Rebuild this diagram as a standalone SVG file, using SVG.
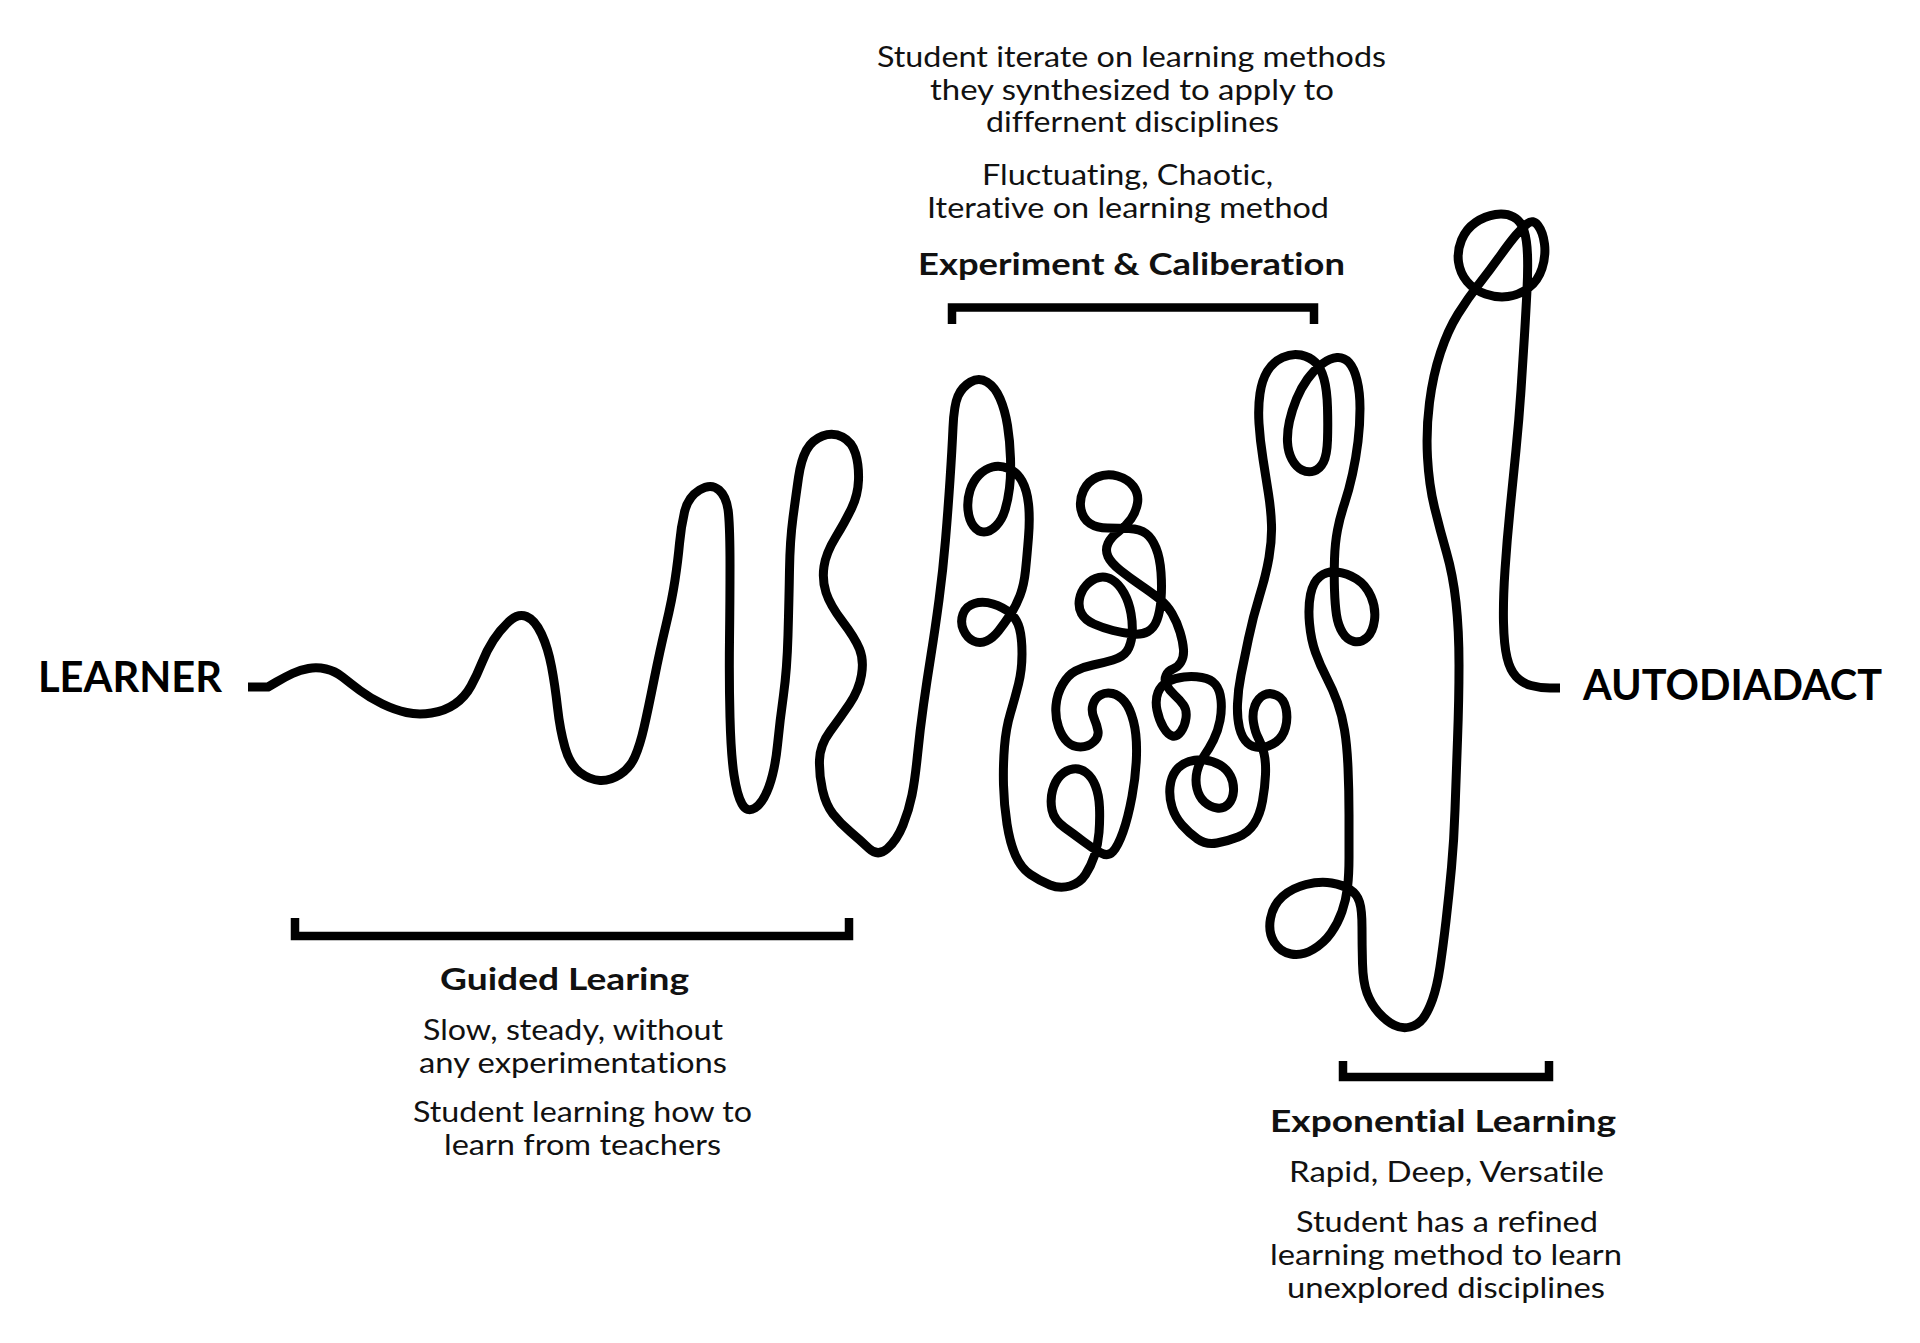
<svg xmlns="http://www.w3.org/2000/svg" width="1920" height="1343" viewBox="0 0 1920 1343">
<style>
.bg{fill:#ffffff}
.curve{fill:none;stroke:#000;stroke-width:9;stroke-linecap:butt;stroke-linejoin:round}
.bracket{fill:none;stroke:#000;stroke-width:8.5;stroke-linecap:butt;stroke-linejoin:miter}
text{font-variant-ligatures:none;font-feature-settings:"liga" 0,"clig" 0}
.body{font-family:Lato,"Liberation Sans",sans-serif;font-size:28px;fill:#111;text-anchor:middle}
.head{font-family:Lato,"Liberation Sans",sans-serif;font-size:31px;font-weight:700;fill:#111;text-anchor:middle}
.end{font-family:Lato,"Liberation Sans",sans-serif;font-size:42px;font-weight:700;fill:#000}
</style>
<rect class="bg" x="0" y="0" width="1920" height="1343"/>
<g id="connectors">
<path id="learning-curve" class="curve" d="M248 687 L268 687 L276.5 682 Q285 677 292.5 673.5 Q300 670 308.5 668.5 Q317 667 326 669 Q335 671 342.5 677 Q350 683 360 690.5 Q370 698 382.5 704 Q395 710 406.5 712.5 Q418 715 431.5 713 Q445 711 455 704 Q465 697 471 686 Q477 675 482 662.5 Q487 650 493.5 640 Q500 630 509 621.5 Q518 613 526.5 616.5 Q535 620 541.5 634 Q548 648 551.5 666.5 Q555 685 557.5 707.5 Q560 730 565 747.5 Q570 765 580 772.5 Q590 780 600 780.5 Q610 781 620 774.5 Q630 768 635 756.5 Q640 745 644 727.5 Q648 710 654 680 Q660 650 666 625 Q672 600 675 580 Q678 560 679.5 543.5 Q681 527 684.5 512 Q688 497 699.5 490 Q711 483 719 490 Q727 497 728.5 513.5 Q730 530 730 565 Q730 600 729.5 640 Q729 680 730 717.5 Q731 755 734 775 Q737 795 742 804 Q747 813 755 808 Q763 803 769 786.5 Q775 770 777.5 745 Q780 720 783.5 695 Q787 670 788 635 Q789 600 789.5 570 Q790 540 793 517.5 Q796 495 798.5 477.5 Q801 460 806.5 450 Q812 440 822.5 436 Q833 432 842.5 437 Q852 442 855.5 453.5 Q859 465 858.5 480 Q858 495 851.5 508.5 Q845 522 835.5 537.5 Q826 553 824 566.5 Q822 580 826 592.5 Q830 605 842.5 621.5 Q855 638 859.5 649 Q864 660 861.5 675 Q859 690 849.5 704 Q840 718 830 731.5 Q820 745 819.5 760 Q819 775 822.5 790 Q826 805 833 814 Q840 823 850 831.5 Q860 840 869 848.5 Q878 857 887.5 848.5 Q897 840 903 825 Q909 810 912 795 Q915 780 917.5 755 Q920 730 923.5 705 Q927 680 931 655 Q935 630 939 600 Q943 570 945.5 540 Q948 510 950 480 Q952 450 953 427.5 Q954 405 958 396 Q962 387 970.5 382 Q979 377 987 382 Q995 387 1000 398.5 Q1005 410 1007.5 425.5 Q1010 441 1010.5 458.5 Q1011 476 1009.5 488 Q1008 500 1005 510 Q1002 520 996 526 Q990 532 984 532 Q978 532 973.5 526 Q969 520 968 510 Q967 500 970 490.5 Q973 481 979 475 Q985 469 992.5 467 Q1000 465 1008.5 468.5 Q1017 472 1022 481 Q1027 490 1028.5 504 Q1030 518 1028.5 537 Q1027 556 1025.5 570.5 Q1024 585 1020 595.5 Q1016 606 1010 615 Q1004 624 998.5 631 Q993 638 986.5 641 Q980 644 973.5 641 Q967 638 963.5 630 Q960 622 963 614 Q966 606 974.5 603.5 Q983 601 993 604 Q1003 607 1010 613 Q1017 619 1019.5 628.5 Q1022 638 1022 654 Q1022 670 1018.5 684 Q1015 698 1010.5 713 Q1006 728 1004.5 746.5 Q1003 765 1003.5 785 Q1004 805 1007 824 Q1010 843 1015.5 855.5 Q1021 868 1030.5 874.5 Q1040 881 1050 885 Q1060 889 1070 886 Q1080 883 1085.5 874.5 Q1091 866 1094.5 855.5 Q1098 845 1099 832.5 Q1100 820 1099.5 807.5 Q1099 795 1095.5 786 Q1092 777 1086 772.5 Q1080 768 1073 769 Q1066 770 1060.5 775.5 Q1055 781 1052.5 790.5 Q1050 800 1052 810 Q1054 820 1064.5 827.5 Q1075 835 1083.5 841.5 Q1092 848 1100 852.5 Q1108 857 1113 851.5 Q1118 846 1123 832 Q1128 818 1132 796.5 Q1136 775 1136.5 755 Q1137 735 1133.5 721.5 Q1130 708 1124.5 701.5 Q1119 695 1112.5 693.5 Q1106 692 1100.5 695 Q1095 698 1093 704.5 Q1091 711 1094 718 Q1097 725 1098 731 Q1099 737 1093.5 742 Q1088 747 1080.5 747 Q1073 747 1067.5 742 Q1062 737 1058.5 727 Q1055 717 1056 705.5 Q1057 694 1062.5 684.5 Q1068 675 1075.5 671 Q1083 667 1093 665 Q1103 663 1113 660 Q1123 657 1127 651 Q1131 645 1132 635 Q1133 625 1131 613.5 Q1129 602 1124 593 Q1119 584 1112.5 580 Q1106 576 1099 577.5 Q1092 579 1086.5 585 Q1081 591 1079.5 599 Q1078 607 1081.5 613.5 Q1085 620 1094 624 Q1103 628 1113 630.5 Q1123 633 1132.5 634 Q1142 635 1148 631.5 Q1154 628 1157 620 Q1160 612 1161 599.5 Q1162 587 1161 572.5 Q1160 558 1156 548 Q1152 538 1146 533.5 Q1140 529 1129 528.5 Q1118 528 1107.5 528 Q1097 528 1090 523.5 Q1083 519 1081 509.5 Q1079 500 1083.5 490.5 Q1088 481 1097.5 477 Q1107 473 1117.5 476 Q1128 479 1133.5 486.5 Q1139 494 1137.5 503 Q1136 512 1131 519 Q1126 526 1118.5 531.5 Q1111 537 1108 543.5 Q1105 550 1108 556.5 Q1111 563 1120.5 570.5 Q1130 578 1141 585.5 Q1152 593 1159.5 599 Q1167 605 1172 613.5 Q1177 622 1180 632 Q1183 642 1183.5 649.5 Q1184 657 1181 662 Q1178 667 1173 669 Q1168 671 1166 675.5 Q1164 680 1166.5 685 Q1169 690 1174.5 695 Q1180 700 1183.5 705 Q1187 710 1186 718 Q1185 726 1181 731.5 Q1177 737 1172.5 736 Q1168 735 1163.5 727.5 Q1159 720 1157 710 Q1155 700 1158 692.5 Q1161 685 1168 681.5 Q1175 678 1184 677 Q1193 676 1202 677.5 Q1211 679 1215.5 684.5 Q1220 690 1221 700 Q1222 710 1220 720.5 Q1218 731 1213.5 740 Q1209 749 1204 756 Q1199 763 1197 771.5 Q1195 780 1197 788.5 Q1199 797 1204.5 802 Q1210 807 1217 808 Q1224 809 1228.5 804 Q1233 799 1233.5 791 Q1234 783 1230.5 776 Q1227 769 1220 765 Q1213 761 1205 760 Q1197 759 1189 761.5 Q1181 764 1176 770.5 Q1171 777 1170 787 Q1169 797 1172 807 Q1175 817 1182 825 Q1189 833 1197.5 839 Q1206 845 1217 843 Q1228 841 1238 837 Q1248 833 1254 824 Q1260 815 1262.5 801 Q1265 787 1265.5 774.5 Q1266 762 1264 753.5 Q1262 745 1258.5 738.5 Q1255 732 1253.5 722.5 Q1252 713 1255 705.5 Q1258 698 1264 695 Q1270 692 1277 695.5 Q1284 699 1286 708.5 Q1288 718 1285.5 727.5 Q1283 737 1276 742 Q1269 747 1261 747.5 Q1253 748 1247.5 743 Q1242 738 1239.5 728 Q1237 718 1237.5 704 Q1238 690 1241 675 Q1244 660 1248.5 638.5 Q1253 617 1259.5 596 Q1266 575 1269 557.5 Q1272 540 1271.5 525 Q1271 510 1268.5 494 Q1266 478 1263 459 Q1260 440 1259 423.5 Q1258 407 1260 393.5 Q1262 380 1267.5 371 Q1273 362 1282.5 357.5 Q1292 353 1301 355 Q1310 357 1315.5 362.5 Q1321 368 1324 379 Q1327 390 1327.5 407.5 Q1328 425 1327.5 440 Q1327 455 1323.5 462 Q1320 469 1314 471 Q1308 473 1302 470 Q1296 467 1292 459.5 Q1288 452 1287.5 442 Q1287 432 1289.5 421 Q1292 410 1296.5 399 Q1301 388 1307.5 379 Q1314 370 1322 364 Q1330 358 1337 357.5 Q1344 357 1349 362.5 Q1354 368 1357 380 Q1360 392 1360 408.5 Q1360 425 1358 441.5 Q1356 458 1352.5 474 Q1349 490 1344.5 503.5 Q1340 517 1337.5 530 Q1335 543 1334.5 559 Q1334 575 1334.5 590 Q1335 605 1336.5 615 Q1338 625 1342.5 632.5 Q1347 640 1354 641.5 Q1361 643 1367 637.5 Q1373 632 1374.5 620 Q1376 608 1371 596.5 Q1366 585 1356.5 579 Q1347 573 1337 572 Q1327 571 1320 576.5 Q1313 582 1310.5 594.5 Q1308 607 1309.5 623.5 Q1311 640 1315.5 652.5 Q1320 665 1326.5 677.5 Q1333 690 1337.5 702.5 Q1342 715 1344.5 730 Q1347 745 1348 767.5 Q1349 790 1349 815 Q1349 840 1349 857.5 Q1349 875 1347.5 887.5 Q1346 900 1342 911.5 Q1338 923 1331 933 Q1324 943 1313 949.5 Q1302 956 1291 954 Q1280 952 1274 942 Q1268 932 1270.5 918.5 Q1273 905 1282.5 896.5 Q1292 888 1306 884.5 Q1320 881 1331.5 883 Q1343 885 1350 889.5 Q1357 894 1359.5 902 Q1362 910 1362 927.5 Q1362 945 1362.5 963.5 Q1363 982 1367 993 Q1371 1004 1378.5 1012.5 Q1386 1021 1394 1025 Q1402 1029 1410 1027 Q1418 1025 1423 1018.5 Q1428 1012 1432.5 999.5 Q1437 987 1440 967 Q1443 947 1446 921 Q1449 895 1451.5 867.5 Q1454 840 1455 810 Q1456 780 1457.5 740 Q1459 700 1459 665 Q1459 630 1456 602.5 Q1453 575 1446.5 552.5 Q1440 530 1434.5 507.5 Q1429 485 1427.5 457.5 Q1426 430 1429.5 402.5 Q1433 375 1440.5 352.5 Q1448 330 1458 314 Q1468 298 1479 284 Q1490 270 1500 256 Q1510 242 1516 235 Q1522 228 1527.5 223.5 Q1533 219 1538 225.5 Q1543 232 1544.5 244 Q1546 256 1542 268.5 Q1538 281 1528.5 288 Q1519 295 1508 296.5 Q1497 298 1485.5 294 Q1474 290 1467 281.5 Q1460 273 1458.5 262 Q1457 251 1461.5 240 Q1466 229 1475.5 222.5 Q1485 216 1495.5 214.5 Q1506 213 1513.5 217 Q1521 221 1524 230.5 Q1527 240 1527.5 255 Q1528 270 1527 290 Q1526 310 1524.5 335 Q1523 360 1521 390 Q1519 420 1516 450 Q1513 480 1510 510 Q1507 540 1505 570 Q1503 600 1503.5 622.5 Q1504 645 1507 657.5 Q1510 670 1516 676.5 Q1522 683 1531 685.5 Q1540 688 1550 688 L1560 688"/>
</g>
<g id="node-learner">
<text class="end" x="38" y="692" textLength="184" lengthAdjust="spacingAndGlyphs">LEARNER</text>
</g>
<g id="node-autodiadact">
<text class="end" x="1583" y="700" textLength="299" lengthAdjust="spacingAndGlyphs">AUTODIADACT</text>
</g>
<g id="node-experiment">
<text class="body" x="1131.5" y="67" textLength="509" lengthAdjust="spacingAndGlyphs">Student iterate on learning methods</text>
<text class="body" x="1132" y="100" textLength="404" lengthAdjust="spacingAndGlyphs">they synthesized to apply to</text>
<text class="body" x="1132.5" y="132" textLength="293" lengthAdjust="spacingAndGlyphs">differnent disciplines</text>
<text class="body" x="1127.5" y="185" textLength="291" lengthAdjust="spacingAndGlyphs">Fluctuating, Chaotic,</text>
<text class="body" x="1128" y="218" textLength="402" lengthAdjust="spacingAndGlyphs">Iterative on learning method</text>
<text class="head" x="1131.5" y="275" textLength="427" lengthAdjust="spacingAndGlyphs">Experiment &amp; Caliberation</text>
<path class="bracket" d="M952 324 V307.5 H1314 V324"/>
</g>
<g id="node-guided">
<path class="bracket" d="M295 918 V936 H849 V918"/>
<text class="head" x="564.5" y="990" textLength="249" lengthAdjust="spacingAndGlyphs">Guided Learing</text>
<text class="body" x="573" y="1040" textLength="300" lengthAdjust="spacingAndGlyphs">Slow, steady, without</text>
<text class="body" x="573" y="1073" textLength="308" lengthAdjust="spacingAndGlyphs">any experimentations</text>
<text class="body" x="582.5" y="1122" textLength="339" lengthAdjust="spacingAndGlyphs">Student learning how to</text>
<text class="body" x="582.5" y="1155" textLength="277" lengthAdjust="spacingAndGlyphs">learn from teachers</text>
</g>
<g id="node-exponential">
<path class="bracket" d="M1343 1061 V1077 H1549 V1061"/>
<text class="head" x="1443" y="1132" textLength="346" lengthAdjust="spacingAndGlyphs">Exponential Learning</text>
<text class="body" x="1446.5" y="1182" textLength="315" lengthAdjust="spacingAndGlyphs">Rapid, Deep, Versatile</text>
<text class="body" x="1447" y="1232" textLength="302" lengthAdjust="spacingAndGlyphs">Student has a refined</text>
<text class="body" x="1446" y="1265" textLength="352" lengthAdjust="spacingAndGlyphs">learning method to learn</text>
<text class="body" x="1446" y="1298" textLength="318" lengthAdjust="spacingAndGlyphs">unexplored disciplines</text>
</g>
</svg>
